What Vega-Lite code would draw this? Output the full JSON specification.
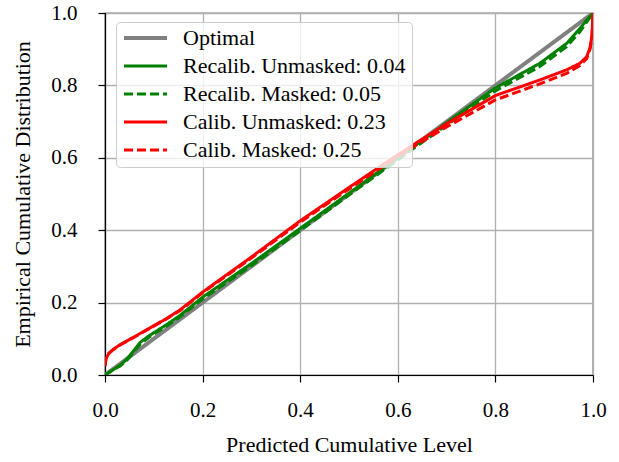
{
  "$schema": "https://vega.github.io/schema/vega-lite/v6.json",
  "width": 488,
  "height": 362,
  "autosize": {"type": "none"},
  "padding": {"left": 105, "top": 13, "right": 26, "bottom": 87},
  "background": "white",
  "config": {
    "font": "Liberation Serif",
    "view": {"stroke": "black", "strokeWidth": 1.2},
    "axis": {
      "labelFont": "Liberation Serif",
      "titleFont": "Liberation Serif",
      "labelFontSize": 21,
      "titleFontSize": 22,
      "titleFontWeight": "normal",
      "labelColor": "black",
      "titleColor": "black",
      "domainColor": "black",
      "domainWidth": 1.2,
      "tickColor": "black",
      "tickWidth": 1.2,
      "tickSize": 7,
      "gridColor": "#b0b0b0",
      "gridWidth": 1.3,
      "gridOpacity": 1
    },
    "legend": {
      "labelFont": "Liberation Serif",
      "labelFontSize": 22,
      "labelColor": "black",
      "labelLimit": 0
    }
  },
  "data": {
    "values": [
      {"series": "Optimal", "x": 0, "y": 0},
      {"series": "Optimal", "x": 1, "y": 1},

      {"series": "Recalib. Unmasked: 0.04", "x": 0, "y": 0},
      {"series": "Recalib. Unmasked: 0.04", "x": 0.017, "y": 0.015},
      {"series": "Recalib. Unmasked: 0.04", "x": 0.031, "y": 0.027},
      {"series": "Recalib. Unmasked: 0.04", "x": 0.045, "y": 0.044},
      {"series": "Recalib. Unmasked: 0.04", "x": 0.058, "y": 0.066},
      {"series": "Recalib. Unmasked: 0.04", "x": 0.072, "y": 0.09},
      {"series": "Recalib. Unmasked: 0.04", "x": 0.092, "y": 0.11},
      {"series": "Recalib. Unmasked: 0.04", "x": 0.126, "y": 0.139},
      {"series": "Recalib. Unmasked: 0.04", "x": 0.154, "y": 0.165},
      {"series": "Recalib. Unmasked: 0.04", "x": 0.2, "y": 0.215},
      {"series": "Recalib. Unmasked: 0.04", "x": 0.3, "y": 0.308},
      {"series": "Recalib. Unmasked: 0.04", "x": 0.4, "y": 0.405},
      {"series": "Recalib. Unmasked: 0.04", "x": 0.5, "y": 0.502},
      {"series": "Recalib. Unmasked: 0.04", "x": 0.577, "y": 0.577},
      {"series": "Recalib. Unmasked: 0.04", "x": 0.64, "y": 0.639},
      {"series": "Recalib. Unmasked: 0.04", "x": 0.7, "y": 0.697},
      {"series": "Recalib. Unmasked: 0.04", "x": 0.8, "y": 0.793},
      {"series": "Recalib. Unmasked: 0.04", "x": 0.891, "y": 0.861},
      {"series": "Recalib. Unmasked: 0.04", "x": 0.946, "y": 0.916},
      {"series": "Recalib. Unmasked: 0.04", "x": 0.973, "y": 0.957},
      {"series": "Recalib. Unmasked: 0.04", "x": 0.987, "y": 0.98},
      {"series": "Recalib. Unmasked: 0.04", "x": 1, "y": 1},

      {"series": "Recalib. Masked: 0.05", "x": 0, "y": 0},
      {"series": "Recalib. Masked: 0.05", "x": 0.017, "y": 0.014},
      {"series": "Recalib. Masked: 0.05", "x": 0.031, "y": 0.025},
      {"series": "Recalib. Masked: 0.05", "x": 0.045, "y": 0.041},
      {"series": "Recalib. Masked: 0.05", "x": 0.058, "y": 0.062},
      {"series": "Recalib. Masked: 0.05", "x": 0.072, "y": 0.085},
      {"series": "Recalib. Masked: 0.05", "x": 0.092, "y": 0.106},
      {"series": "Recalib. Masked: 0.05", "x": 0.126, "y": 0.135},
      {"series": "Recalib. Masked: 0.05", "x": 0.154, "y": 0.161},
      {"series": "Recalib. Masked: 0.05", "x": 0.2, "y": 0.21},
      {"series": "Recalib. Masked: 0.05", "x": 0.3, "y": 0.302},
      {"series": "Recalib. Masked: 0.05", "x": 0.4, "y": 0.399},
      {"series": "Recalib. Masked: 0.05", "x": 0.5, "y": 0.497},
      {"series": "Recalib. Masked: 0.05", "x": 0.577, "y": 0.572},
      {"series": "Recalib. Masked: 0.05", "x": 0.64, "y": 0.633},
      {"series": "Recalib. Masked: 0.05", "x": 0.7, "y": 0.69},
      {"series": "Recalib. Masked: 0.05", "x": 0.8, "y": 0.785},
      {"series": "Recalib. Masked: 0.05", "x": 0.891, "y": 0.852},
      {"series": "Recalib. Masked: 0.05", "x": 0.946, "y": 0.907},
      {"series": "Recalib. Masked: 0.05", "x": 0.973, "y": 0.948},
      {"series": "Recalib. Masked: 0.05", "x": 0.987, "y": 0.975},
      {"series": "Recalib. Masked: 0.05", "x": 1, "y": 1},

      {"series": "Calib. Unmasked: 0.23", "x": 0, "y": 0.025},
      {"series": "Calib. Unmasked: 0.23", "x": 0.002, "y": 0.045},
      {"series": "Calib. Unmasked: 0.23", "x": 0.008, "y": 0.06},
      {"series": "Calib. Unmasked: 0.23", "x": 0.017, "y": 0.071},
      {"series": "Calib. Unmasked: 0.23", "x": 0.031, "y": 0.084},
      {"series": "Calib. Unmasked: 0.23", "x": 0.058, "y": 0.104},
      {"series": "Calib. Unmasked: 0.23", "x": 0.092, "y": 0.13},
      {"series": "Calib. Unmasked: 0.23", "x": 0.126, "y": 0.156},
      {"series": "Calib. Unmasked: 0.23", "x": 0.154, "y": 0.18},
      {"series": "Calib. Unmasked: 0.23", "x": 0.2, "y": 0.229},
      {"series": "Calib. Unmasked: 0.23", "x": 0.3, "y": 0.326},
      {"series": "Calib. Unmasked: 0.23", "x": 0.4, "y": 0.426},
      {"series": "Calib. Unmasked: 0.23", "x": 0.5, "y": 0.518},
      {"series": "Calib. Unmasked: 0.23", "x": 0.577, "y": 0.588},
      {"series": "Calib. Unmasked: 0.23", "x": 0.64, "y": 0.643},
      {"series": "Calib. Unmasked: 0.23", "x": 0.7, "y": 0.694},
      {"series": "Calib. Unmasked: 0.23", "x": 0.8, "y": 0.772},
      {"series": "Calib. Unmasked: 0.23", "x": 0.891, "y": 0.815},
      {"series": "Calib. Unmasked: 0.23", "x": 0.946, "y": 0.843},
      {"series": "Calib. Unmasked: 0.23", "x": 0.973, "y": 0.861},
      {"series": "Calib. Unmasked: 0.23", "x": 0.987, "y": 0.879},
      {"series": "Calib. Unmasked: 0.23", "x": 0.994, "y": 0.905},
      {"series": "Calib. Unmasked: 0.23", "x": 0.998, "y": 0.94},
      {"series": "Calib. Unmasked: 0.23", "x": 1, "y": 1},

      {"series": "Calib. Masked: 0.25", "x": 0, "y": 0.025},
      {"series": "Calib. Masked: 0.25", "x": 0.002, "y": 0.045},
      {"series": "Calib. Masked: 0.25", "x": 0.008, "y": 0.06},
      {"series": "Calib. Masked: 0.25", "x": 0.017, "y": 0.07},
      {"series": "Calib. Masked: 0.25", "x": 0.031, "y": 0.083},
      {"series": "Calib. Masked: 0.25", "x": 0.058, "y": 0.103},
      {"series": "Calib. Masked: 0.25", "x": 0.092, "y": 0.129},
      {"series": "Calib. Masked: 0.25", "x": 0.126, "y": 0.155},
      {"series": "Calib. Masked: 0.25", "x": 0.154, "y": 0.178},
      {"series": "Calib. Masked: 0.25", "x": 0.2, "y": 0.227},
      {"series": "Calib. Masked: 0.25", "x": 0.3, "y": 0.323},
      {"series": "Calib. Masked: 0.25", "x": 0.4, "y": 0.422},
      {"series": "Calib. Masked: 0.25", "x": 0.5, "y": 0.514},
      {"series": "Calib. Masked: 0.25", "x": 0.577, "y": 0.583},
      {"series": "Calib. Masked: 0.25", "x": 0.64, "y": 0.637},
      {"series": "Calib. Masked: 0.25", "x": 0.7, "y": 0.685},
      {"series": "Calib. Masked: 0.25", "x": 0.8, "y": 0.76},
      {"series": "Calib. Masked: 0.25", "x": 0.891, "y": 0.804},
      {"series": "Calib. Masked: 0.25", "x": 0.946, "y": 0.833},
      {"series": "Calib. Masked: 0.25", "x": 0.973, "y": 0.855},
      {"series": "Calib. Masked: 0.25", "x": 0.987, "y": 0.874},
      {"series": "Calib. Masked: 0.25", "x": 0.994, "y": 0.9},
      {"series": "Calib. Masked: 0.25", "x": 0.998, "y": 0.935},
      {"series": "Calib. Masked: 0.25", "x": 1, "y": 1}
    ]
  },
  "mark": {"type": "line", "clip": true},
  "encoding": {
    "x": {
      "field": "x",
      "type": "quantitative",
      "title": "Predicted Cumulative Level",
      "scale": {"domain": [0, 1], "nice": false},
      "axis": {"values": [0, 0.2, 0.4, 0.6, 0.8, 1], "format": ".1f", "labelPadding": 17, "titlePadding": 14, "labelFlush": false}
    },
    "y": {
      "field": "y",
      "type": "quantitative",
      "title": "Empirical Cumulative Distribution",
      "scale": {"domain": [0, 1], "nice": false},
      "axis": {"values": [0, 0.2, 0.4, 0.6, 0.8, 1], "format": ".1f", "labelPadding": 21, "titlePadding": 16, "labelFlush": false}
    },
    "color": {
      "field": "series",
      "type": "nominal",
      "title": null,
      "sort": null,
      "scale": {
        "domain": ["Optimal", "Recalib. Unmasked: 0.04", "Recalib. Masked: 0.05", "Calib. Unmasked: 0.23", "Calib. Masked: 0.25"],
        "range": ["#808080", "#008000", "#008000", "#ff0000", "#ff0000"]
      },
      "legend": {
        "orient": "none",
        "legendX": 11,
        "legendY": 9,
        "symbolType": "stroke",
        "symbolSize": 1849,
        "clipHeight": 20,
        "rowPadding": 6,
        "labelOffset": 14,
        "padding": 6,
        "labelLimit": 0,
        "fillColor": "rgba(255,255,255,0.8)",
        "strokeColor": "#cccccc",
        "cornerRadius": 4
      }
    },
    "strokeDash": {
      "field": "series",
      "type": "nominal",
      "title": null,
      "scale": {
        "domain": ["Optimal", "Recalib. Unmasked: 0.04", "Recalib. Masked: 0.05", "Calib. Unmasked: 0.23", "Calib. Masked: 0.25"],
        "range": [[1, 0], [1, 0], [9, 4], [1, 0], [9, 4]]
      }
    },
    "strokeWidth": {
      "field": "series",
      "type": "nominal",
      "title": null,
      "scale": {
        "type": "ordinal",
        "domain": ["Optimal", "Recalib. Unmasked: 0.04", "Recalib. Masked: 0.05", "Calib. Unmasked: 0.23", "Calib. Masked: 0.25"],
        "range": [4, 3, 3, 3, 3]
      }
    }
  }
}
